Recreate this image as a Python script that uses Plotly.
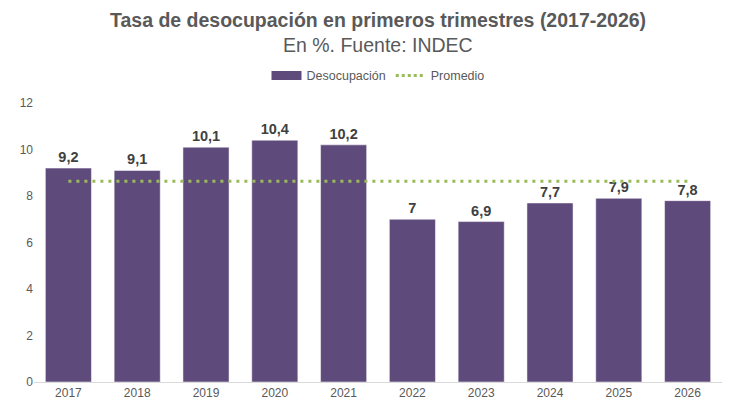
import plotly.graph_objects as go

# Datos
anios = ["2017", "2018", "2019", "2020", "2021", "2022", "2023", "2024", "2025", "2026"]
desocupacion = [9.2, 9.1, 10.1, 10.4, 10.2, 7.0, 6.9, 7.7, 7.9, 7.8]
promedio = [8.63] * len(anios)
etiquetas = ["9,2", "9,1", "10,1", "10,4", "10,2", "7", "6,9", "7,7", "7,9", "7,8"]

violeta = "#5F4A7C"
verde = "#9BBB59"

fig = go.Figure()

fig.add_trace(go.Bar(
    x=anios,
    y=desocupacion,
    name="Desocupación",
    marker_color=violeta,
    text=etiquetas,
    textposition="outside",
    textfont=dict(size=14.5, color="#404040", family="Liberation Sans", weight="bold"),
    cliponaxis=False,
    showlegend=False,
))

fig.add_trace(go.Scatter(
    x=anios,
    y=promedio,
    name="Promedio",
    mode="lines",
    line=dict(color=verde, width=3, dash="3px,5px"),
    showlegend=False,
))

# Entradas de leyenda (sin datos)
fig.add_trace(go.Scatter(x=[None], y=[None], mode="lines", name="Desocupación",
                         line=dict(color=violeta, width=9)))
fig.add_trace(go.Scatter(x=[None], y=[None], mode="lines", name="Promedio",
                         line=dict(color=verde, width=3, dash="3px,3px")))

fig.update_layout(
    width=730,
    height=413,
    template="simple_white",
    font=dict(family="Liberation Sans", color="#595959", size=12),
    legend=dict(orientation="h", x=0.5, xanchor="center", y=1.097, yanchor="middle",
                font=dict(size=12.5, color="#595959"), itemwidth=30),
    margin=dict(l=34, r=8, t=103, b=31, autoexpand=False),
    bargap=0.33,
    plot_bgcolor="white",
    paper_bgcolor="white",
)

fig.add_annotation(text="<b>Tasa de desocupación en primeros trimestres (2017-2026)</b>",
                   xref="paper", yref="paper", x=0.5, y=1.297, xanchor="center", yanchor="middle",
                   showarrow=False, font=dict(size=19.5, color="#595959"))
fig.add_annotation(text="En %. Fuente: INDEC",
                   xref="paper", yref="paper", x=0.5, y=1.208, xanchor="center", yanchor="middle",
                   showarrow=False, font=dict(size=19.5, color="#595959"))

fig.update_xaxes(showline=True, linecolor="#D9D9D9", ticks="", tickfont=dict(size=12),
                 automargin=False)
fig.update_yaxes(range=[0, 12], dtick=2, showline=False, ticks="", showgrid=False,
                 tickfont=dict(size=12), automargin=False)

fig.write_html("out.html", config={"displayModeBar": False},
               post_script="document.body.style.margin='0';")
